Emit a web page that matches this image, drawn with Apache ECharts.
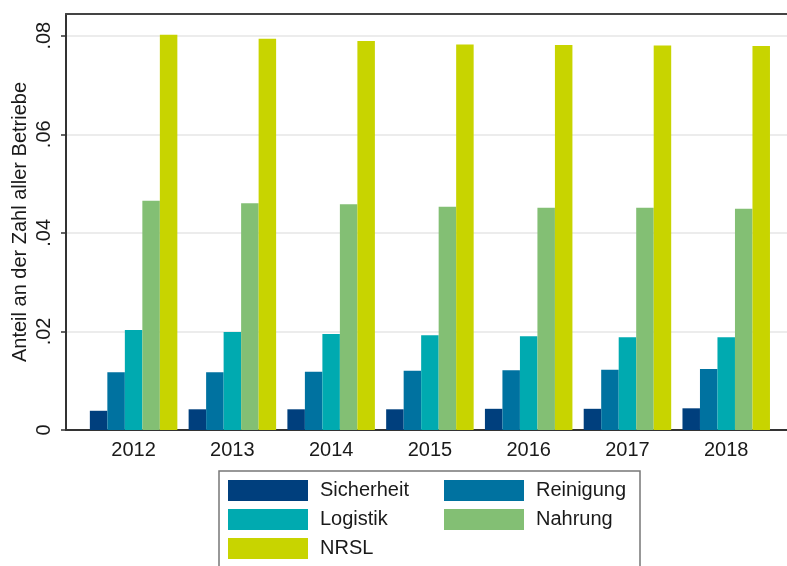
<!DOCTYPE html>
<html>
<head>
<meta charset="utf-8">
<script src="https://cdn.jsdelivr.net/npm/echarts@6/dist/echarts.min.js"></script>
<style>
html,body{margin:0;padding:0;background:#fff;}
#chart{width:787px;height:566px;}
</style>
</head>
<body>
<div id="chart"></div>
<script>
// ---- data ----
const years = [2012, 2013, 2014, 2015, 2016, 2017, 2018];
const seriesNames = ['Sicherheit', 'Reinigung', 'Logistik', 'Nahrung', 'NRSL'];
const sicherheit = [0.0039, 0.0042, 0.0042, 0.0042, 0.0043, 0.0043, 0.0044];
const reinigung  = [0.0117, 0.0117, 0.0118, 0.0120, 0.0121, 0.0122, 0.0124];
const logistik   = [0.0203, 0.0199, 0.0195, 0.0192, 0.0190, 0.0188, 0.0188];
const nahrung    = [0.0465, 0.0460, 0.0458, 0.0453, 0.0451, 0.0451, 0.0449];
const nrsl       = [0.0802, 0.0794, 0.0789, 0.0782, 0.0781, 0.0780, 0.0779];
const yTicks = [0, 0.02, 0.04, 0.06, 0.08];
const yTitle = 'Anteil an der Zahl aller Betriebe';

// ---- styles ----
const colors = ['#003f7d', '#0072a0', '#00aab0', '#83bf74', '#c8d400'];
const FONT = 'Liberation Sans, Arial, sans-serif';
const values = [sicherheit, reinigung, logistik, nahrung, nrsl];

const xMin = 2011.3156, xMax = 2018.828;

const chart = echarts.init(document.getElementById('chart'), null, {renderer: 'canvas'});

const series = seriesNames.map((name, i) => ({
  name: name,
  type: 'bar',
  data: years.map((y, j) => [y, values[i][j]]),
  barWidth: 17.5,
  barGap: '0%',
  itemStyle: {color: colors[i]},
  emphasis: {disabled: true}
}));

// legend positions (2 columns)
const legendPos = [
  {left: 228, top: 480}, {left: 444, top: 480},
  {left: 228, top: 509}, {left: 444, top: 509},
  {left: 228, top: 538}
];
const legends = seriesNames.map((name, i) => ({
  data: [name],
  left: legendPos[i].left,
  top: legendPos[i].top,
  padding: 0,
  itemWidth: 80,
  itemHeight: 21,
  icon: 'rect',
  selectedMode: false,
  textStyle: {fontFamily: FONT, fontSize: 20, color: '#1a1a1a', padding: [0, 0, 0, 7]}
}));

chart.setOption({
  animation: false,
  backgroundColor: '#fff',
  color: colors,
  grid: {left: 66, right: -21, top: 14, bottom: 136, containLabel: false, outerBoundsMode: 'none'},
  legend: legends,
  xAxis: [{
    type: 'value',
    min: xMin, max: xMax,
    axisLine: {show: true, lineStyle: {color: '#333', width: 2}},
    axisTick: {show: false},
    splitLine: {show: false},
    axisLabel: {
      customValues: years,
      formatter: v => String(Math.round(v)),
      fontFamily: FONT, fontSize: 20, color: '#1a1a1a', margin: 10
    }
  }, {
    type: 'value',
    position: 'top',
    min: xMin, max: xMax,
    axisLine: {show: true, onZero: false, lineStyle: {color: '#444', width: 2}},
    axisTick: {show: false},
    axisLabel: {show: false},
    splitLine: {show: false}
  }],
  yAxis: {
    type: 'value',
    min: 0, max: 0.0844, interval: 0.02,
    name: yTitle,
    nameLocation: 'middle',
    nameGap: 36,
    nameMoveOverlap: false,
    nameTextStyle: {fontFamily: FONT, fontSize: 20, color: '#1a1a1a'},
    axisLine: {show: true, lineStyle: {color: '#333', width: 2}},
    axisTick: {show: true, length: 5, lineStyle: {color: '#333', width: 1.5},
      customValues: yTicks},
    splitLine: {show: true, lineStyle: {color: '#e6e6e6', width: 1.5}},
    axisLabel: {
      customValues: yTicks,
      rotate: 90,
      margin: 12,
      formatter: v => v === 0 ? '0' : v.toFixed(2).replace(/^0/, ''),
      fontFamily: FONT, fontSize: 20, color: '#1a1a1a'
    }
  },
  graphic: [{
    type: 'rect',
    shape: {x: 219, y: 471, width: 421, height: 120},
    style: {fill: 'none', stroke: '#777', lineWidth: 1.5},
    silent: true
  }],
  series: series
});
</script>
</body>
</html>
